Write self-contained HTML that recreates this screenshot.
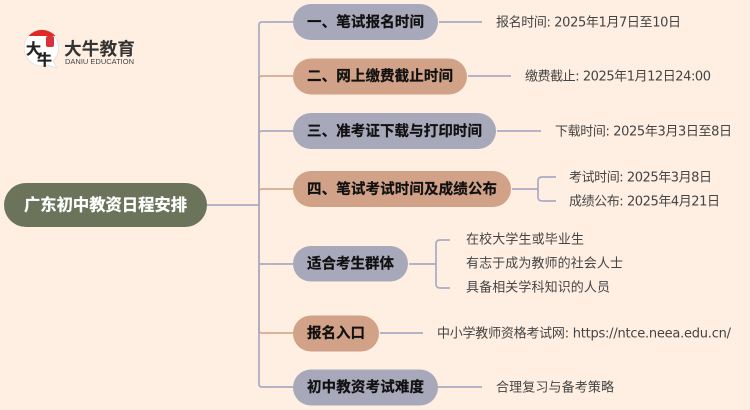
<!DOCTYPE html>
<html><head><meta charset="utf-8">
<style>
html,body{margin:0;padding:0;background:#ffefe2;width:750px;height:410px;overflow:hidden}
svg{display:block;filter:blur(.35px)}
text{font-family:"DejaVu Sans","Noto Sans CJK SC",sans-serif}
.n{font-family:"Liberation Sans","Noto Sans CJK SC",sans-serif;font-size:14.500px;font-weight:700;fill:#111;stroke:#111;stroke-width:.25}
.l{font-size:13px;fill:#444}
.p{stroke:#a9abc3;stroke-width:1.7;fill:none}
.o{stroke:#d8a98e;stroke-width:1.7;fill:none}
</style></head><body>
<svg width="750" height="410" viewBox="0 0 750 410" xmlns="http://www.w3.org/2000/svg">
<rect width="750" height="410" fill="#ffefe2"/>
<!-- trunk connectors -->
<path class="o" d="M259 205V79q0-3 3-3H293"/>
<path class="o" d="M259 205V192q0-3 3-3H293"/>
<path class="o" d="M259 205V330q0 3 3 3H293"/>
<path class="p" d="M207 205H259M259 205V25q0-3 3-3H293"/>
<path class="p" d="M259 205V134q0-3 3-3H293"/>
<path class="p" d="M259 205V384q0 3 3 3H293"/>
<path class="p" d="M259 264H293"/>
<!-- leaf connectors -->
<path class="p" d="M439 22H482M468 76H511M497 131H541M512 189H538M556 177H542q-4 0-4 4V197q0 4 4 4H556"/>
<path class="p" d="M409 264H436M450 240H440q-4 0-4 4V284q0 4 4 4H450"/>
<path class="p" d="M380 333H423M438 387H482"/>
<!-- root -->
<rect x="4" y="183" width="203" height="44" rx="22" fill="#6b745b"/>
<text x="24" y="210.500" font-size="16.300" font-weight="700" fill="#fff" stroke="#fff" stroke-width=".25" textLength="163" style="font-family:'Liberation Sans','Noto Sans CJK SC',sans-serif">广东初中教资日程安排</text>
<!-- nodes -->
<rect x="293" y="4" width="145" height="36" rx="18" fill="#a8a8bb"/>
<text class="n" x="307" y="27" textLength="117">一、笔试报名时间</text>
<rect x="293" y="58.500" width="174" height="36" rx="18" fill="#d2a288"/>
<text class="n" x="307" y="81" textLength="146">二、网上缴费截止时间</text>
<rect x="293" y="113" width="203" height="36" rx="18" fill="#a8a8bb"/>
<text class="n" x="307" y="136" textLength="175">三、准考证下载与打印时间</text>
<rect x="293" y="171" width="218" height="36" rx="18" fill="#d2a288"/>
<text class="n" x="307" y="194" textLength="190">四、笔试考试时间及成绩公布</text>
<rect x="293" y="246" width="115" height="35.500" rx="17.700" fill="#a8a8bb"/>
<text class="n" x="307" y="268.500" textLength="87">适合考生群体</text>
<rect x="293" y="315.500" width="86" height="36" rx="18" fill="#d2a288"/>
<text class="n" x="307" y="338" textLength="58">报名入口</text>
<rect x="293" y="369.500" width="145" height="36" rx="18" fill="#a8a8bb"/>
<text class="n" x="307" y="392" textLength="117">初中教资考试难度</text>
<!-- leaves -->
<text class="l" x="496" y="26.500" textLength="185">报名时间: 2025年1月7日至10日</text>
<text class="l" x="525" y="80.500" textLength="186">缴费截止: 2025年1月12日24:00</text>
<text class="l" x="555" y="135.500" textLength="177">下载时间: 2025年3月3日至8日</text>
<text class="l" x="569" y="181.500" textLength="143">考试时间: 2025年3月8日</text>
<text class="l" x="569" y="205.500" textLength="151">成绩公布: 2025年4月21日</text>
<text class="l" x="466" y="243.500" textLength="118">在校大学生或毕业生</text>
<text class="l" x="466" y="267.500" textLength="157">有志于成为教师的社会人士</text>
<text class="l" x="466" y="291.500" textLength="144">具备相关学科知识的人员</text>
<text class="l" x="437" y="337.500" textLength="294">中小学教师资格考试网: https://ntce.neea.edu.cn/</text>
<text class="l" x="496" y="391.500" textLength="118">合理复习与备考策略</text>
<!-- logo -->
<path d="M42 30a18 18 0 1 0 6 35l9 3-4-7a18 18 0 0 0-11-31z" fill="#fff" stroke="#ddd" stroke-width=".7"/>
<path d="M28.500 36a18 18 0 0 1 27 0z" fill="#e02a26"/>
<rect x="46" y="36" width="8" height="11" rx="2" fill="#d8333a"/>
<text x="26" y="54" font-size="15" font-weight="700" fill="#222" stroke="#222" stroke-width=".3" style="font-family:'Noto Sans CJK SC',sans-serif">大</text>
<text x="37" y="65" font-size="15" font-weight="700" fill="#222" stroke="#222" stroke-width=".3" style="font-family:'Noto Sans CJK SC',sans-serif">牛</text>
<text x="64" y="55" font-size="17.700" font-weight="700" fill="#333" textLength="71" style="font-family:'Liberation Sans','Noto Sans CJK SC',sans-serif">大牛教育</text>
<text x="65" y="64" font-size="7.500" fill="#444" textLength="69" style="font-family:'Liberation Sans',sans-serif">DANIU EDUCATION</text>
</svg>
</body></html>
